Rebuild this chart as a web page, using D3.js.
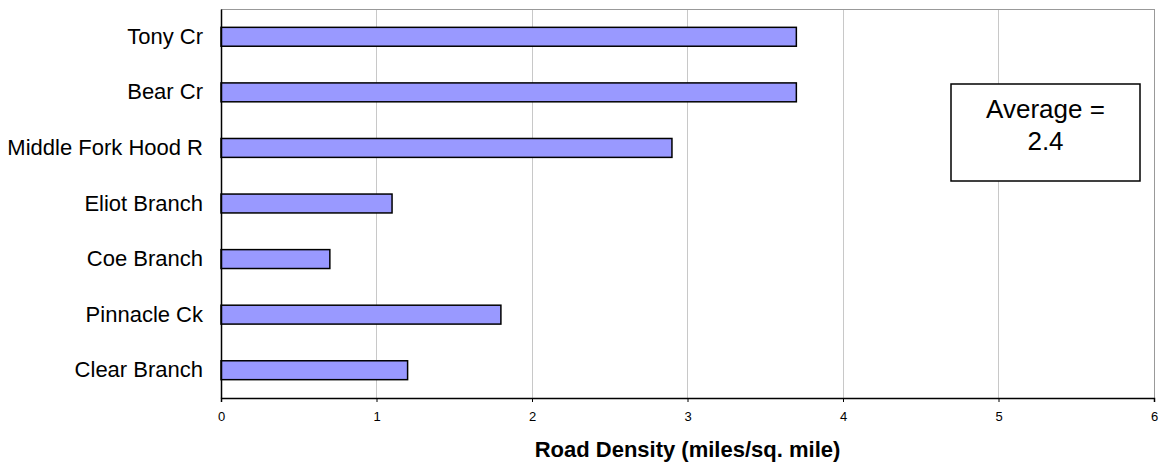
<!DOCTYPE html>
<html><head><meta charset="utf-8">
<script src="https://cdn.jsdelivr.net/npm/d3@7"></script>
<style>body{margin:0;background:#fff;}svg{display:block;font-family:"Liberation Sans",Arial,sans-serif;}</style>
</head><body>
<svg id="c" width="1163" height="464"></svg>
<script>
const categories = ["Tony Cr","Bear Cr","Middle Fork Hood R","Eliot Branch","Coe Branch","Pinnacle Ck","Clear Branch"];
const values = [3.7,3.7,2.9,1.1,0.7,1.8,1.2];
const xTicks = [0,1,2,3,4,5,6];
const xTitle = "Road Density (miles/sq. mile)";
const noteLines = ["Average =","2.4"];

const svg = d3.select("#c");
const L = 221, R = 1154, T = 9, B = 398;
const x = d3.scaleLinear().domain([0,6]).range([L,R]);
const y = d3.scaleBand().domain(categories).range([T,B]).paddingInner(0.66).paddingOuter(0.33);

// gridlines
svg.append("g").selectAll("line").data(xTicks.filter(d=>d>0&&d<6)).join("line")
  .attr("x1",d=>x(d)).attr("x2",d=>x(d)).attr("y1",T).attr("y2",B)
  .attr("stroke","#c8c8c8").attr("stroke-width",1).attr("shape-rendering","crispEdges");
// border top/right
svg.append("path").attr("d",`M${L},${T}H${R}V${B}`).attr("fill","none")
  .attr("stroke","#999").attr("stroke-width",1).attr("shape-rendering","crispEdges");

// bars
svg.append("g").selectAll("rect").data(values).join("rect")
  .attr("x",x(0)).attr("y",(d,i)=>y(categories[i]))
  .attr("width",d=>x(d)-x(0)).attr("height",y.bandwidth())
  .attr("fill","#9999ff").attr("stroke","#000").attr("stroke-width",1.5);

// x axis
const xa = svg.append("g").attr("transform",`translate(0,${B})`)
  .call(d3.axisBottom(x).tickValues(xTicks).tickFormat(d3.format("d")).tickSize(4).tickPadding(10));
xa.select(".domain").attr("stroke","#000").attr("stroke-width",1.5);
xa.selectAll(".tick line").attr("stroke","#000");
xa.selectAll("text").attr("font-size",13).attr("fill","#000").attr("font-family","Liberation Sans, Arial, sans-serif");

// y axis
const ya = svg.append("g").attr("transform",`translate(${L},0)`)
  .call(d3.axisLeft(y).tickSize(0).tickPadding(18));
ya.select(".domain").attr("stroke","#000").attr("stroke-width",1.5);
ya.selectAll("text").attr("font-size",22).attr("fill","#000").attr("font-family","Liberation Sans, Arial, sans-serif");

// title
svg.append("text").attr("x",(L+R)/2).attr("y",457).attr("text-anchor","middle")
  .attr("font-size",22).attr("font-weight","bold").text(xTitle);

// note box
const bx = 951, by = 84, bw = 189, bh = 97;
svg.append("rect").attr("x",bx).attr("y",by).attr("width",bw).attr("height",bh)
  .attr("fill","#fff").attr("stroke","#000").attr("stroke-width",1.5);
svg.append("g").selectAll("text").data(noteLines).join("text")
  .attr("x",bx+bw/2).attr("y",(d,i)=>118+i*32).attr("text-anchor","middle")
  .attr("font-size",26).text(d=>d);
</script>
</body></html>
